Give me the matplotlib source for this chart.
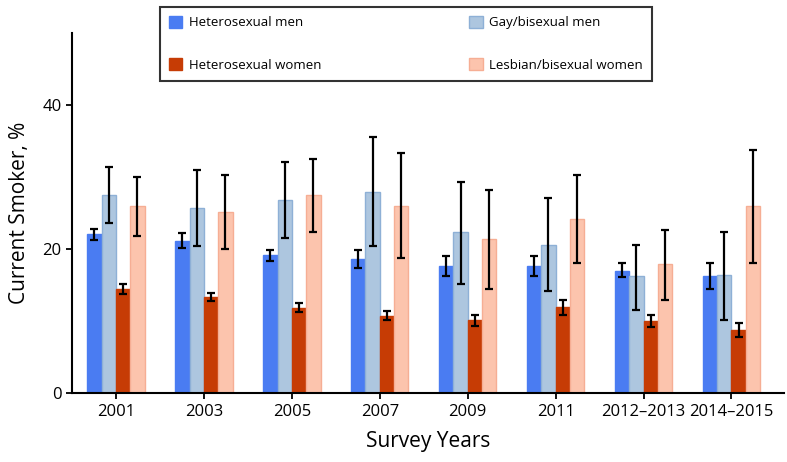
import matplotlib.pyplot as plt
import numpy as np
from matplotlib.patches import Patch

plt.rcParams['font.family'] = ['Open Sans', 'DejaVu Sans']

years = ['2001', '2003', '2005', '2007', '2009', '2011', '2012\u20132013', '2014\u20132015']

het_men = [22.1, 21.1, 19.2, 18.6, 17.6, 17.6, 17.0, 16.2]
het_men_lo = [21.3, 20.1, 18.3, 17.4, 16.3, 16.3, 16.1, 14.4]
het_men_hi = [22.8, 22.2, 19.9, 19.8, 19.1, 19.1, 18.0, 18.0]

gay_men = [27.5, 25.7, 26.8, 27.9, 22.3, 20.6, 16.2, 16.4]
gay_men_lo = [23.6, 20.4, 21.5, 20.4, 15.2, 14.2, 11.6, 10.2]
gay_men_hi = [31.4, 31.0, 32.1, 35.5, 29.3, 27.1, 20.6, 22.4]

het_women = [14.4, 13.3, 11.8, 10.7, 10.1, 11.9, 10.0, 8.7]
het_women_lo = [13.7, 12.8, 11.2, 10.1, 9.3, 10.9, 9.2, 7.8]
het_women_hi = [15.1, 13.9, 12.5, 11.4, 10.9, 12.9, 10.8, 9.8]

les_women = [26.0, 25.2, 27.5, 26.0, 21.4, 24.2, 17.9, 26.0]
les_women_lo = [21.8, 20.0, 22.3, 18.8, 14.4, 18.1, 12.9, 18.1]
les_women_hi = [30.0, 30.3, 32.5, 33.3, 28.2, 30.3, 22.7, 33.8]

series = [
    ('Heterosexual men', het_men, het_men_lo, het_men_hi, '#4a7cf2', '#4a7cf2'),
    ('Gay/bisexual men', gay_men, gay_men_lo, gay_men_hi, '#adc6df', '#8eb0d6'),
    ('Heterosexual women', het_women, het_women_lo, het_women_hi, '#c63c05', '#c63c05'),
    ('Lesbian/bisexual women', les_women, les_women_lo, les_women_hi, '#fcc4ad', '#f6ae94'),
]

fig = plt.figure(figsize=(7.87, 4.62), dpi=100)
ax = fig.add_axes([0.0915, 0.149, 0.905, 0.78])

x = np.arange(len(years))
w = 0.163
for i, (name, vals, lo, hi, fc, ec) in enumerate(series):
    pos = x + (i - 1.5) * w
    vals = np.array(vals)
    yerr = [vals - np.array(lo), np.array(hi) - vals]
    ax.bar(pos, vals, w, color=fc, edgecolor=ec, linewidth=1, zorder=2)
    ax.errorbar(pos, vals, yerr=yerr, fmt='none', ecolor='black',
                elinewidth=1.6, capsize=2.6, capthick=1.6, zorder=3)

ax.set_xlim(-0.5, 7.6)
ax.set_ylim(0, 50)
ax.set_yticks([0, 20, 40])
ax.set_xticks(x)
ax.set_xticklabels(years)
ax.spines['top'].set_visible(False)
ax.spines['right'].set_visible(False)
ax.spines['left'].set_linewidth(1.5)
ax.spines['bottom'].set_linewidth(1.5)
ax.tick_params(axis='both', labelsize=12, width=1.3, length=4, direction='out')
ax.set_ylabel('Current Smoker, %', fontsize=15, labelpad=9)
ax.set_xlabel('Survey Years', fontsize=15, labelpad=8)

handles = [Patch(facecolor=s[4], edgecolor=s[5]) for s in series]
order = [0, 2, 1, 3]
leg = fig.legend([handles[i] for i in order], [series[i][0] for i in order],
                 ncol=2, loc='upper left', bbox_to_anchor=(0.195, 1.0),
                 fontsize=9.5, frameon=True, fancybox=False, edgecolor='black',
                 handlelength=1.0, handleheight=1.0, handletextpad=0.5,
                 labelspacing=2.2, columnspacing=11.2, borderpad=0.7)
leg.get_frame().set_linewidth(1.5)

fig.savefig('out.png', dpi=100)
